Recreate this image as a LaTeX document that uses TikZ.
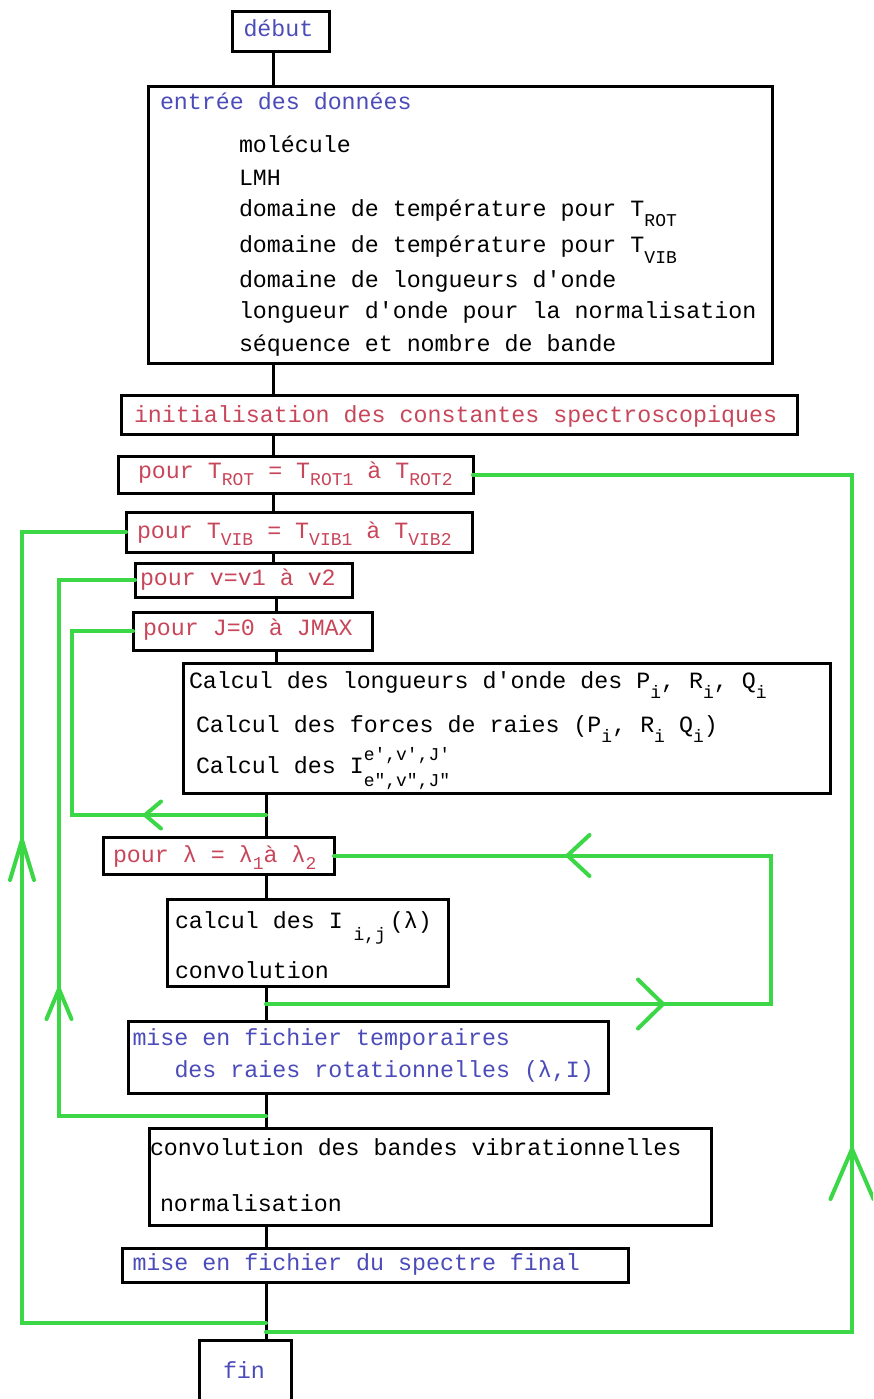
\documentclass[tikz,border=0pt]{standalone}
\usepackage{fontspec}
\newfontfamily\mono{Liberation Mono}[Ligatures=TeXOff]
\usetikzlibrary{arrows.meta,decorations.markings}
\definecolor{fblue}{RGB}{75,75,185}
\definecolor{fred}{RGB}{200,70,90}
\definecolor{fgreen}{RGB}{60,215,70}
\newcommand\monofont{\mono\fontsize{23.3}{33}\selectfont}
\newcommand\bl{\char32\relax}
\newcommand\sbs[2][-7pt]{\raisebox{#1}[0pt][0pt]{\fontsize{18}{18}\selectfont #2}}
\newcommand\supsb[2]{\rlap{\raisebox{13pt}[0pt][0pt]{\fontsize{18}{18}\selectfont #1}}\raisebox{-13pt}[0pt][0pt]{\fontsize{18}{18}\selectfont #2}}
\tikzset{
  box/.style={draw=black, line width=3pt, anchor=north west, inner ysep=0pt, outer sep=0pt,
    align=left, font=\monofont},
  flow/.style={draw=black, line width=3pt},
  back/.style={draw, color=fgreen, line width=4pt, line cap=round},
  tipat/.style n args={3}{postaction={decorate, decoration={markings,
     mark=at position #1 with {\arrow{Straight Barb[length=#2, width=#3, round]}}}}}
}
\begin{document}
\begin{tikzpicture}[x=1pt,y=-1pt]
\useasboundingbox (0,0) rectangle (873,1399);
\fill[white] (0,0) rectangle (873,1399);
\clip (0,0) rectangle (873,1399);

% boxes
\node[box, text=fblue, inner xsep=11.5pt, text width=74pt, minimum height=40pt, text height=25pt, text depth=15pt] (debut) at (232,12) {début};

\node[box, inner xsep=12pt, text width=600pt, minimum height=276pt, text height=23pt, text depth=253pt] (entree) at (148,87)
{\textcolor{fblue}{entrée\bl des\bl données}\\[10pt]
\hspace*{79pt}molécule\\
\hspace*{79pt}LMH\\[-2pt]
\hspace*{79pt}domaine\bl de\bl température\bl pour\bl T\sbs[-10pt]{ROT}\\[3pt]
\hspace*{79pt}domaine\bl de\bl température\bl pour\bl T\sbs[-11pt]{VIB}\\[2pt]
\hspace*{79pt}domaine\bl de\bl longueurs\bl d'onde\\[-2pt]
\hspace*{79pt}longueur\bl d'onde\bl pour\bl la\bl normalisation\\
\hspace*{79pt}séquence\bl et\bl nombre\bl de\bl bande};

\node[box, text=fred, inner xsep=13pt, text width=650pt, minimum height=39pt, text height=27pt, text depth=12pt] (init) at (121,395) {initialisation\bl des\bl constantes\bl spectroscopiques};

\node[box, text=fred, inner xsep=20pt, text width=315pt, minimum height=37pt, text height=22pt, text depth=15pt] (trot) at (118,456) {pour\bl T\sbs{ROT}\bl =\bl T\sbs{ROT1}\bl à\bl T\sbs{ROT2}};

\node[box, text=fred, inner xsep=11pt, text width=324pt, minimum height=40pt, text height=26pt, text depth=14pt] (tvib) at (126,512) {pour\bl T\sbs{VIB}\bl =\bl T\sbs{VIB1}\bl à\bl T\sbs{VIB2}};

\node[box, text=fred, inner xsep=5pt, text width=207pt, minimum height=34pt, text height=22pt, text depth=12pt] (vloop) at (135,563) {pour\bl v=v1\bl à\bl v2};

\node[box, text=fred, inner xsep=10pt, text width=219pt, minimum height=38pt, text height=23pt, text depth=15pt] (jloop) at (133,612) {pour\bl J=0\bl à\bl JMAX};

\node[box, inner xsep=6pt, text width=635pt, minimum height=130pt, text height=25pt, text depth=105pt] (calc) at (183,663)
{Calcul\bl des\bl longueurs\bl d'onde\bl des\bl P\sbs[-10pt]{i},\bl R\sbs[-10pt]{i},\bl Q\sbs[-10pt]{i}\\[11pt]
\hspace*{7pt}Calcul\bl des\bl forces\bl de\bl raies\bl (P\sbs[-10pt]{i},\bl R\sbs[-10pt]{i}\bl Q\sbs[-10pt]{i})\\[8pt]
\hspace*{7pt}Calcul\bl des\bl I\supsb{e',v',J'}{e",v",J"}};

\node[box, text=fred, inner xsep=10pt, text width=211pt, minimum height=37pt, text height=25pt, text depth=12pt] (lam) at (103,837) {pour\bl λ\bl =\bl λ\sbs{1}à\bl λ\sbs{2}};

\node[box, inner xsep=8pt, text width=265pt, minimum height=87pt, text height=29pt, text depth=58pt] (calci) at (167,899)
{calcul\bl des\bl I\sbs[-12pt]{\bl i,j}\hspace{4pt}(λ)\\[17pt]
convolution};

\node[box, text=fblue, inner xsep=4.5pt, text width=471pt, minimum height=72pt, text height=24pt, text depth=48pt] (tmp) at (128,1021)
{mise\bl en\bl fichier\bl temporaires\\[-1pt]
\hspace*{42pt}des\bl raies\bl rotationnelles\bl (λ,I)};

\node[box, inner xsep=1pt, text width=560pt, minimum height=97pt, text height=27pt, text depth=70pt] (conv) at (149,1128)
{convolution\bl des\bl bandes\bl vibrationnelles\\[23pt]
\hspace*{10pt}normalisation};

\node[box, text=fblue, inner xsep=10.5pt, text width=485pt, minimum height=34pt, text height=22pt, text depth=12pt] (final) at (122,1248) {mise\bl en\bl fichier\bl du\bl spectre\bl final};

\node[box, text=fblue, inner xsep=24pt, text width=44pt, minimum height=80pt, text height=38pt, text depth=42pt] (fin) at (199,1340) {fin};

% spine
\coordinate (sA) at (273,0);
\coordinate (sB) at (276,0);
\coordinate (sC) at (266,0);
\draw[flow] (debut.south -| sA) -- (entree.north -| sA);
\draw[flow] (entree.south -| sA) -- (init.north -| sA);
\draw[flow] (init.south -| sA) -- (trot.north -| sA);
\draw[flow] (trot.south -| sA) -- (tvib.north -| sA);
\draw[flow] (tvib.south -| sA) -- (vloop.north -| sA);
\draw[flow] (vloop.south -| sB) -- (jloop.north -| sB);
\draw[flow] (jloop.south -| sB) -- (calc.north -| sB);
\draw[flow] (calc.south -| sC) -- (lam.north -| sC);
\draw[flow] (lam.south -| sC) -- (calci.north -| sC);
\draw[flow] (calci.south -| sC) -- (tmp.north -| sC);
\draw[flow] (tmp.south -| sC) -- (conv.north -| sC);
\draw[flow] (conv.south -| sC) -- (final.north -| sC);
\draw[flow] (final.south -| sC) -- (fin.north -| sC);

% loop junctions and corners
\coordinate (jJ) at (266,815);
\coordinate (jL) at (266,1004);
\coordinate (jv) at (266,1116);
\coordinate (jVIB) at (266,1323);
\coordinate (jROT) at (266,1332);
\coordinate (kJ) at (72,700);
\coordinate (kL) at (771,900);
\coordinate (kv) at (59,900);
\coordinate (kV) at (22,900);
\coordinate (kR) at (852,900);

\draw[back, tipat={123pt}{16pt}{27pt}] (jJ) -| (kJ) |- (jloop.west);
\draw[back, tipat={399pt}{25pt}{49pt}, tipat={859pt}{22pt}{41pt}] (jL) -| (kL) |- (lam.east);
\draw[back, tipat={336pt}{30pt}{25pt}] (jv) -| (kv) |- (vloop.west);
\draw[back, tipat={729pt}{40pt}{24pt}] (jVIB) -| (kV) |- (tvib.west);
\draw[back, tipat={771pt}{50pt}{43pt}] (jROT) -| (kR) |- (trot.east);
\end{tikzpicture}
\end{document}
